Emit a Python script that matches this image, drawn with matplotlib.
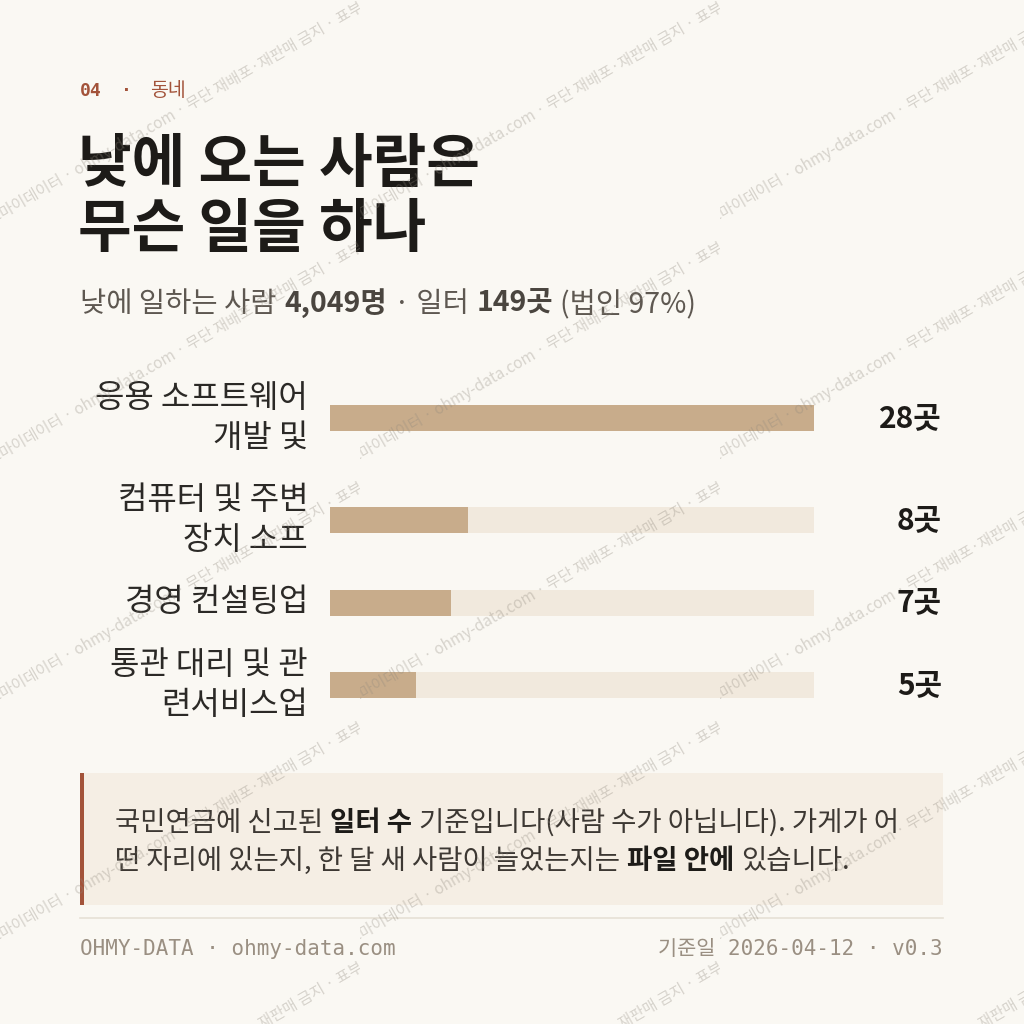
import matplotlib
matplotlib.use("Agg")
import matplotlib.pyplot as plt
from matplotlib.patches import Rectangle
from matplotlib.transforms import Bbox

# ---------------- data ----------------
kicker_num = "04"
kicker_label = "동네"
title_lines = ["낮에 오는 사람은", "무슨 일을 하나"]
day_workers = "4,049"
workplace_total = "149"
corp_share = "97%"
categories = ["응용 소프트웨어\n개발 및", "컴퓨터 및 주변\n장치 소프", "경영 컨설팅업", "통관 대리 및 관\n련서비스업"]
counts = [28, 8, 7, 5]
unit = "곳"
note_line1 = [("국민연금에 신고된 ", "normal"), ("일터 수", "bold"), (" 기준입니다(사람 수가 아닙니다). 가게가 어", "normal")]
note_line2 = [("떤 자리에 있는지, 한 달 새 사람이 늘었는지는 ", "normal"), ("파일 안에", "bold"), (" 있습니다.", "normal")]
footer_left = "OHMY-DATA · ohmy-data.com"
footer_right = "기준일 2026-04-12 · v0.3"
watermark = "오마이데이터 · ohmy-data.com · 무단 재배포·재판매 금지 · 표부"

# ---------------- style ----------------
BG = "#FAF8F3"
INK = "#1D1B18"
SUB = "#5E5851"
SUBB = "#4A453F"
LABEL = "#2B2926"
BAR = "#C8AC8B"
TRACK = "#F1E9DD"
RUST = "#A3533A"
CALLOUT = "#F5EEE4"
NOTE = "#3D3833"
RULE = "#E6E1D6"
FOOT = "#9A8F82"
KR = ["Noto Sans CJK KR", "DejaVu Sans"]
MONO = ["DejaVu Sans Mono", "Noto Sans CJK KR"]

plt.rcParams["font.family"] = KR

W = H = 1024
fig = plt.figure(figsize=(W / 100, H / 100), dpi=100)
fig.patch.set_facecolor(BG)
bg = fig.add_axes([0, 0, 1, 1])
bg.set_xlim(0, W)
bg.set_ylim(H, 0)
bg.axis("off")
renderer = fig.canvas.get_renderer()


def runs_text(ax, x, y, runs, size, family=KR, ha="left"):
    sp = size / 72 * 100 * 0.26
    items = []
    total = 0.0
    for s, w, c in runs:
        lead = len(s) - len(s.lstrip(" "))
        trail = len(s) - len(s.rstrip(" "))
        core = s.strip(" ")
        total += lead * sp
        t = ax.text(0, y, core, fontsize=size, fontweight=w, color=c,
                    family=family, ha="left", va="baseline")
        bb = t.get_window_extent(renderer)
        items.append((t, total))
        total += bb.width + trail * sp
    x0 = x - total if ha == "right" else x
    for t, off in items:
        t.set_x(x0 + off)


# kicker
bg.text(80, 96, kicker_num, fontsize=13, fontweight="bold", color=RUST, family=MONO, va="baseline")
bg.text(126, 96, "·", fontsize=13, fontweight="bold", color=RUST, family=MONO, va="baseline", ha="center")
bg.text(150, 96, kicker_label, fontsize=14, color=RUST, family=KR, va="baseline")

# title
for i, line in enumerate(title_lines):
    bg.text(78, 182 + i * 65, line, fontsize=42, fontweight="bold", color=INK, va="baseline")

# subtitle
runs_text(bg, 80, 312, [("낮에 일하는 사람 ", "normal", SUB), (day_workers + "명", "bold", SUBB),
                        (" · 일터 ", "normal", SUB), (workplace_total + "곳", "bold", SUBB),
                        (" (법인 " + corp_share + ")", "normal", SUB)], 20.5)

# ---------------- bars ----------------
LINE_H, GAP, TOP = 39, 24, 379
centers = []
yy = TOP
for c in categories:
    n = c.count("\n") + 1
    centers.append(yy + n * LINE_H / 2)
    yy += n * LINE_H + GAP
Y0, Y1 = 360, 740
bax = fig.add_axes([330 / W, 1 - Y1 / H, (814 - 330) / W, (Y1 - Y0) / H])
bax.set_xlim(0, max(counts))
bax.set_ylim(Y1, Y0)
bax.axis("off")
bax.barh(centers, [max(counts)] * len(counts), height=26, color=TRACK, linewidth=0)
bax.barh(centers, counts, height=26, color=BAR, linewidth=0)

for c, v, yc in zip(categories, counts, centers):
    lines = c.split("\n")
    n = len(lines)
    for j, ln in enumerate(lines):
        ly = yc + (j - (n - 1) / 2) * 40
        bg.text(308, ly, ln, fontsize=23, color=LABEL, ha="right", va="center")
    bg.text(942, yc, f"{v}{unit}", fontsize=21.5, fontweight="bold", color=INK, ha="right", va="center")

# ---------------- callout ----------------
bg.add_patch(Rectangle((80, 773), 863, 132, facecolor=CALLOUT, edgecolor="none"))
bg.add_patch(Rectangle((80, 773), 4, 132, facecolor=RUST, edgecolor="none"))
runs_text(bg, 115, 831, [(s, w, NOTE if w == "normal" else INK) for s, w in note_line1], 19.8)
runs_text(bg, 115, 869, [(s, w, NOTE if w == "normal" else INK) for s, w in note_line2], 19.8)

# rule + footer
bg.plot([80, 943], [917.5, 917.5], color=RULE, linewidth=1.2)
bg.text(80, 955, footer_left, fontsize=15, color=FOOT, family=MONO, va="baseline")
bg.text(943, 955, footer_right, fontsize=15, color=FOOT, family=MONO, va="baseline", ha="right")

# ---------------- watermark ----------------
wm = fig.add_axes([0, 0, 1, 1])
wm.set_xlim(0, W)
wm.set_ylim(H, 0)
wm.axis("off")
wm.patch.set_alpha(0)
TW, TH = 360, 240
for tx in range(0, W, TW):
    for ty in range(0, H, TH):
        t = wm.text(tx - 9, ty + 226, watermark, fontsize=11.1, color="#8F887D", alpha=0.33,
                    rotation=30, rotation_mode="anchor", ha="left", va="baseline", family=KR)
        # clip box in display pixels (origin bottom-left)
        t.set_clip_box(Bbox.from_extents(tx, H - ty - TH, tx + TW, H - ty))
        t.set_clip_on(True)

fig.savefig("out.png", dpi=100, facecolor=BG)
